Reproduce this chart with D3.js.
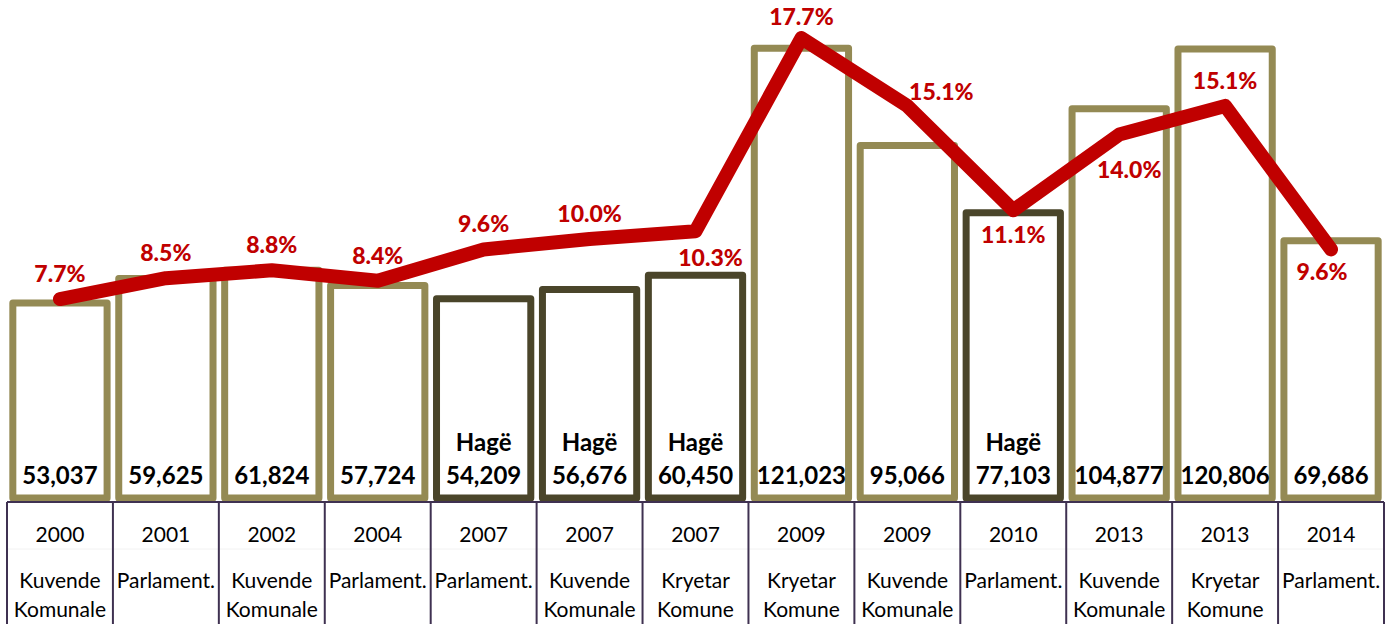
<!DOCTYPE html>
<html>
<head>
<meta charset="utf-8">
<script src="https://cdn.jsdelivr.net/npm/d3@7"></script>
<style>
  body { margin: 0; background: #fff; }
  text { font-family: Lato, "Open Sans", sans-serif; }
</style>
</head>
<body>
<script>
// election years and types
let years = ["2000","2001","2002","2004","2007","2007","2007","2009","2009","2010","2013","2013","2014"];
let types = [["Kuvende","Komunale"],["Parlament."],["Kuvende","Komunale"],["Parlament."],["Parlament."],
             ["Kuvende","Komunale"],["Kryetar","Komune"],["Kryetar","Komune"],["Kuvende","Komunale"],
             ["Parlament."],["Kuvende","Komunale"],["Kryetar","Komune"],["Parlament."]];
// votes
let votes = [53037,59625,61824,57724,54209,56676,60450,121023,95066,77103,104877,120806,69686];
let hague = [false,false,false,false,true,true,true,false,false,true,false,false,false];
// share in percent
let share = [7.7,8.5,8.8,8.4,9.6,10.0,10.3,17.7,15.1,11.1,14.0,15.1,9.6];
// where each percent label goes
let labelPlace = ["t","t","t","t","t","t","br","tl","tr","b","bb","t","bl"];

let W = 1391, H = 624;
let svg = d3.select("body").append("svg")
  .attr("width", W)
  .attr("height", H);

let idx = d3.range(years.length);

let x = d3.scaleBand()
  .domain(idx)
  .range([7, 1384])
  .paddingInner(0.11)
  .paddingOuter(0.055);

let y = d3.scaleLinear()
  .domain([0, 130000])
  .range([502, 14.5]);

let y2 = d3.scaleLinear()
  .domain([0, 20])
  .range([500, -22]);

let step = x.step();
let left = x.range()[0];

// bars
svg.selectAll("rect.bar")
  .data(idx)
  .enter().append("rect")
  .attr("class", "bar")
  .attr("x", i => x(i))
  .attr("y", i => y(votes[i]))
  .attr("width", x.bandwidth())
  .attr("height", i => y(0) - y(votes[i]) - 4)
  .style("fill", "none")
  .style("stroke", i => hague[i] ? "#4A452A" : "#948A54")
  .style("stroke-width", 7)
  .style("stroke-linejoin", "round");

// category axis with separators
let axisG = svg.append("g");
axisG.append("line")
  .attr("x1", left).attr("x2", left + step * years.length)
  .attr("y1", 502).attr("y2", 502)
  .style("stroke", "#3F3151").style("stroke-width", 2);

axisG.append("line")
  .attr("x1", left).attr("x2", left + step * years.length)
  .attr("y1", 549).attr("y2", 549)
  .style("stroke", "#f2f2f2").style("stroke-width", 1);

axisG.selectAll("line.sep")
  .data(d3.range(years.length + 1))
  .enter().append("line")
  .attr("class", "sep")
  .attr("x1", i => left + i * step)
  .attr("x2", i => left + i * step)
  .attr("y1", 502).attr("y2", H)
  .style("stroke", "#3F3151").style("stroke-width", 2);

axisG.selectAll("text.year")
  .data(idx)
  .enter().append("text")
  .attr("class", "year")
  .attr("x", i => x(i) + x.bandwidth() / 2)
  .attr("y", 542)
  .attr("text-anchor", "middle")
  .style("font-size", "21px")
  .text(i => years[i]);

idx.forEach(function (i) {
  types[i].forEach(function (t, k) {
    axisG.append("text")
      .attr("x", x(i) + x.bandwidth() / 2)
      .attr("y", 588 + k * 29)
      .attr("text-anchor", "middle")
      .style("font-size", "21px")
      .text(t);
  });
});

// vote labels inside bars
svg.selectAll("text.votes")
  .data(idx)
  .enter().append("text")
  .attr("class", "votes")
  .attr("x", i => x(i) + x.bandwidth() / 2)
  .attr("y", 484)
  .attr("text-anchor", "middle")
  .style("font-size", "24px")
  .style("font-weight", "bold")
  .text(i => d3.format(",")(votes[i]));

svg.selectAll("text.hague")
  .data(idx.filter(i => hague[i]))
  .enter().append("text")
  .attr("class", "hague")
  .attr("x", i => x(i) + x.bandwidth() / 2)
  .attr("y", 451)
  .attr("text-anchor", "middle")
  .style("font-size", "24px")
  .style("font-weight", "bold")
  .text("Hagë");

// share line
let line = d3.line()
  .x(i => x(i) + x.bandwidth() / 2)
  .y(i => y2(share[i]));

svg.append("path")
  .datum(idx)
  .attr("d", line)
  .style("fill", "none")
  .style("stroke", "#C00000")
  .style("stroke-width", 14)
  .style("stroke-linejoin", "round")
  .style("stroke-linecap", "round");

let offsets = {
  t: [0, -17],
  tl: [0, -13],
  b: [0, 33],
  bb: [10, 43],
  bl: [-9, 31],
  tr: [34, -6],
  br: [15, 35]
};

svg.selectAll("text.share")
  .data(idx)
  .enter().append("text")
  .attr("class", "share")
  .attr("x", i => x(i) + x.bandwidth() / 2 + offsets[labelPlace[i]][0])
  .attr("y", i => y2(share[i]) + offsets[labelPlace[i]][1])
  .attr("text-anchor", "middle")
  .style("font-size", "23px")
  .style("font-weight", "900")
  .style("fill", "#C00000")
  .text(i => share[i].toFixed(1) + "%");
</script>
</body>
</html>
